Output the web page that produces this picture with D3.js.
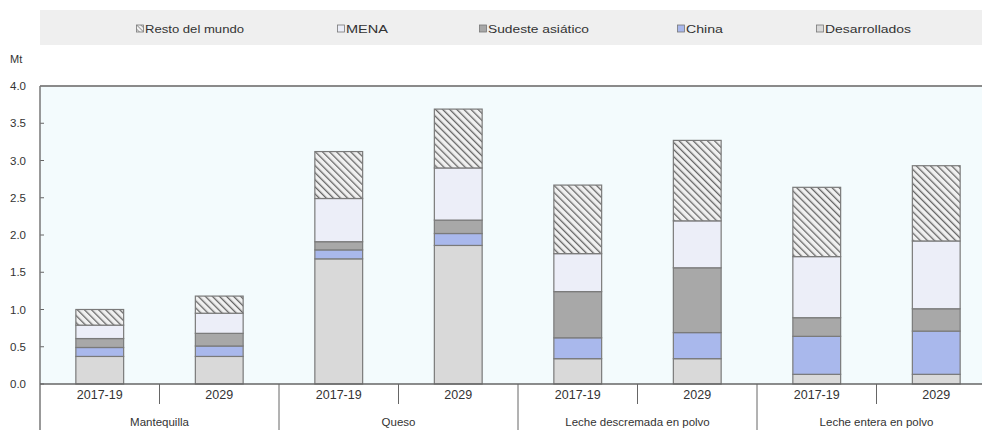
<!DOCTYPE html>
<html><head><meta charset="utf-8">
<script src="https://cdn.jsdelivr.net/npm/d3@7/dist/d3.min.js"></script>
<style>body{margin:0;background:#fff}svg{display:block;font-family:"Liberation Sans",Arial,sans-serif}</style>
</head><body><svg id="c" width="982" height="430"></svg>
<script>
const groups = ["Mantequilla","Queso","Leche descremada en polvo","Leche entera en polvo"];
const periods = ["2017-19","2029"];
const seriesNames = ["Desarrollados","China","Sudeste asiático","MENA","Resto del mundo"];
const legendOrder = ["Resto del mundo","MENA","Sudeste asiático","China","Desarrollados"];
// values per bar (group × period), in series order above
const desarrollados = [0.37,0.37, 1.68,1.86, 0.34,0.34, 0.13,0.13];
const china         = [0.12,0.14, 0.12,0.16, 0.28,0.35, 0.51,0.58];
const sudeste       = [0.12,0.17, 0.11,0.18, 0.62,0.87, 0.25,0.30];
const mena          = [0.18,0.27, 0.58,0.70, 0.51,0.63, 0.82,0.91];
const resto         = [0.21,0.23, 0.63,0.79, 0.92,1.08, 0.93,1.01];
const yTicks = [0,0.5,1,1.5,2,2.5,3,3.5,4];

const svg = d3.select("#c");
const L=40, R=996, T=86, B=384;
const colors = {"Desarrollados":"#d9d9d9","China":"#a9b8ec","Sudeste asiático":"#a8a8a8","MENA":"#eceef8","Resto del mundo":"url(#hatch)"};

const defs = svg.append("defs");
const pat = defs.append("pattern").attr("id","hatch").attr("patternUnits","userSpaceOnUse")
  .attr("width",5).attr("height",5).attr("patternTransform","rotate(-45)");
pat.append("rect").attr("width",5).attr("height",5).attr("fill","#f0f0f0");
pat.append("line").attr("x1",0).attr("y1",0).attr("x2",0).attr("y2",5).attr("stroke","#666").attr("stroke-width",2.6);
const patL = defs.append("pattern").attr("id","hatchL").attr("patternUnits","userSpaceOnUse")
  .attr("width",3).attr("height",3).attr("patternTransform","rotate(-45)");
patL.append("rect").attr("width",3).attr("height",3).attr("fill","#f2f2f2");
patL.append("line").attr("x1",0).attr("y1",0).attr("x2",0).attr("y2",3).attr("stroke","#666").attr("stroke-width",1.2);

const bars = [];
groups.forEach((g,gi)=>periods.forEach((p,pi)=>{
  const i=gi*2+pi;
  bars.push({key:g+"|"+p, group:g, period:p,
    "Desarrollados":desarrollados[i],"China":china[i],"Sudeste asiático":sudeste[i],"MENA":mena[i],"Resto del mundo":resto[i]});
}));

const x = d3.scaleBand().domain(bars.map(d=>d.key)).range([L,R]).paddingInner(0).paddingOuter(0);
const xg = d3.scaleBand().domain(groups).range([L,R]);
const y = d3.scaleLinear().domain([0,4]).range([B,T]);

// legend
svg.append("rect").attr("x",40).attr("y",10).attr("width",942).attr("height",35).attr("fill","#efefef");
const legX = [140,341,483,681,820];
const legW = [99,42,101,37,86];
legendOrder.forEach((n,i)=>{
  const gL = svg.append("g").attr("transform",`translate(${legX[i]},29)`);
  gL.append("rect").attr("x",-3.5).attr("y",-4).attr("width",7).attr("height",7)
    .attr("fill", n==="Resto del mundo"?"url(#hatchL)":colors[n]).attr("stroke","#777").attr("stroke-width",0.8);
  gL.append("text").attr("x",5).attr("y",4).attr("font-size",11.5).attr("fill","#333")
    .attr("textLength",legW[i]).attr("lengthAdjust","spacingAndGlyphs").text(n);
});

// plot background
svg.append("rect").attr("x",L).attr("y",T).attr("width",982-L).attr("height",B-T).attr("fill","#f3fbfd");

// y axis
svg.append("text").attr("x",10).attr("y",63).attr("font-size",11).attr("fill","#333").text("Mt");
const yAx = svg.append("g");
yAx.selectAll("text").data(yTicks).join("text").attr("x",10).attr("y",d=>y(d)+4)
  .attr("font-size",11.5).attr("fill","#333").text(d=>d3.format(".1f")(d));
yAx.selectAll("line").data(yTicks).join("line").attr("x1",L).attr("x2",L+4)
  .attr("y1",d=>y(d)).attr("y2",d=>y(d)).attr("stroke","#666");

// stacks
const stack = d3.stack().keys(seriesNames)(bars);
const bw = x.bandwidth()*0.4;
const layer = svg.append("g");
stack.forEach(s=>{
  layer.selectAll(null).data(s).join("rect")
    .attr("x",d=>x(d.data.key)+(x.bandwidth()-bw)/2).attr("width",bw)
    .attr("y",d=>y(d[1])).attr("height",d=>y(d[0])-y(d[1]))
    .attr("fill",colors[s.key]).attr("stroke","#7a7a7a").attr("stroke-width",1.2);
});

// frame lines
svg.append("line").attr("x1",L).attr("x2",982).attr("y1",T).attr("y2",T).attr("stroke","#8a8a8a").attr("stroke-width",2);
svg.append("line").attr("x1",L).attr("x2",L).attr("y1",T).attr("y2",430).attr("stroke","#777").attr("stroke-width",1.5);
svg.append("line").attr("x1",L).attr("x2",982).attr("y1",B).attr("y2",B).attr("stroke","#666").attr("stroke-width",1.5);

// x labels
const xa = svg.append("g");
xa.selectAll("text.p").data(bars).join("text").attr("class","p")
  .attr("x",d=>x(d.key)+x.bandwidth()/2).attr("y",399).attr("text-anchor","middle")
  .attr("font-size",12.5).attr("fill","#333").text(d=>d.period);
xa.selectAll("line.t").data(groups).join("line").attr("class","t")
  .attr("x1",d=>xg(d)+xg.bandwidth()/2).attr("x2",d=>xg(d)+xg.bandwidth()/2)
  .attr("y1",B).attr("y2",404).attr("stroke","#666");
xa.selectAll("line.g").data(groups.slice(1)).join("line").attr("class","g")
  .attr("x1",d=>xg(d)).attr("x2",d=>xg(d)).attr("y1",B).attr("y2",430).attr("stroke","#666");
xa.selectAll("text.g").data(groups).join("text").attr("class","g")
  .attr("x",d=>xg(d)+xg.bandwidth()/2).attr("y",426).attr("text-anchor","middle")
  .attr("font-size",11.5).attr("fill","#333").text(d=>d);
</script></body></html>
